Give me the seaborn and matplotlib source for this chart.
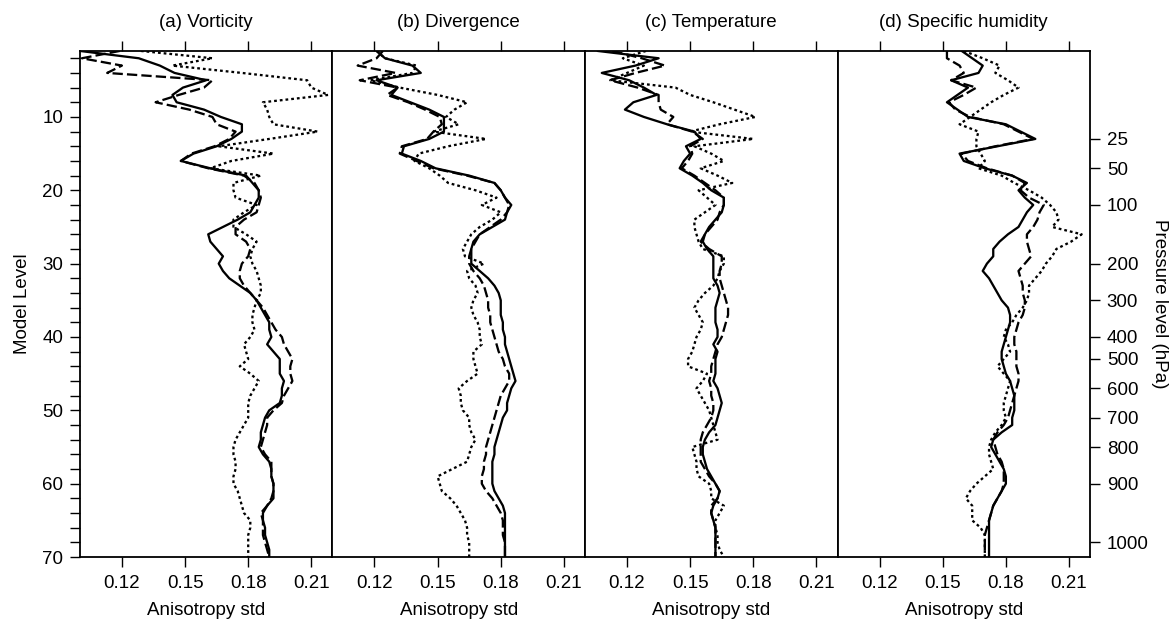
import numpy as np
import pandas as pd
import matplotlib
matplotlib.use("Agg")
import matplotlib.pyplot as plt
import seaborn as sns

levels = np.arange(1, 71)

# (a) Vorticity
vort_solid = [0.100, 0.128, 0.138, 0.145, 0.160, 0.149, 0.144, 0.146, 0.159, 0.167,
              0.177, 0.177, 0.172, 0.165, 0.154, 0.148, 0.162, 0.179, 0.182, 0.185,
              0.185, 0.183, 0.181, 0.175, 0.168, 0.161, 0.162, 0.165, 0.168, 0.166,
              0.168, 0.171, 0.176, 0.181, 0.184, 0.186, 0.188, 0.190, 0.190, 0.191,
              0.189, 0.192, 0.195, 0.195, 0.195, 0.197, 0.196, 0.196, 0.195, 0.190,
              0.188, 0.187, 0.186, 0.186, 0.185, 0.187, 0.190, 0.191, 0.191, 0.192,
              0.192, 0.192, 0.189, 0.187, 0.187, 0.188, 0.188, 0.189, 0.190, 0.190]
vort_dashed = [0.119, 0.101, 0.120, 0.113, 0.163, 0.159, 0.147, 0.136, 0.152, 0.163,
               0.165, 0.174, 0.171, 0.164, 0.153, 0.148, 0.161, 0.178, 0.183, 0.185,
               0.186, 0.185, 0.184, 0.178, 0.174, 0.174, 0.179, 0.181, 0.180, 0.177,
               0.176, 0.176, 0.178, 0.181, 0.184, 0.187, 0.189, 0.191, 0.193, 0.196,
               0.197, 0.199, 0.201, 0.200, 0.200, 0.201, 0.199, 0.197, 0.196, 0.192,
               0.189, 0.189, 0.188, 0.187, 0.186, 0.188, 0.191, 0.191, 0.191, 0.192,
               0.192, 0.191, 0.189, 0.186, 0.187, 0.187, 0.187, 0.188, 0.189, 0.190]
vort_dotted = [0.129, 0.163, 0.144, 0.177, 0.208, 0.210, 0.218, 0.187, 0.189, 0.190,
               0.192, 0.213, 0.190, 0.166, 0.192, 0.172, 0.162, 0.186, 0.173, 0.173,
               0.174, 0.184, 0.178, 0.173, 0.173, 0.179, 0.184, 0.182, 0.181, 0.182,
               0.184, 0.185, 0.186, 0.186, 0.184, 0.183, 0.182, 0.182, 0.183, 0.181,
               0.178, 0.179, 0.180, 0.176, 0.181, 0.185, 0.183, 0.181, 0.180, 0.180,
               0.180, 0.178, 0.176, 0.174, 0.173, 0.173, 0.174, 0.174, 0.173, 0.173,
               0.175, 0.176, 0.177, 0.178, 0.181, 0.181, 0.180, 0.180, 0.180, 0.180]

# (b) Divergence
div_solid = [0.121, 0.125, 0.138, 0.142, 0.121, 0.131, 0.128, 0.137, 0.146, 0.153,
             0.153, 0.153, 0.146, 0.134, 0.133, 0.142, 0.149, 0.165, 0.177, 0.180,
             0.182, 0.185, 0.183, 0.182, 0.176, 0.170, 0.167, 0.166, 0.166, 0.166,
             0.170, 0.174, 0.177, 0.179, 0.180, 0.180, 0.180, 0.181, 0.181, 0.182,
             0.182, 0.183, 0.184, 0.185, 0.186, 0.187, 0.185, 0.184, 0.183, 0.183,
             0.181, 0.180, 0.179, 0.178, 0.177, 0.177, 0.176, 0.176, 0.176, 0.176,
             0.177, 0.179, 0.181, 0.182, 0.182, 0.182, 0.182, 0.182, 0.182, 0.182]
div_dashed = [0.124, 0.121, 0.112, 0.130, 0.113, 0.131, 0.126, 0.136, 0.144, 0.151,
              0.152, 0.148, 0.145, 0.133, 0.132, 0.140, 0.148, 0.164, 0.177, 0.180,
              0.182, 0.184, 0.183, 0.180, 0.175, 0.170, 0.168, 0.166, 0.165, 0.165,
              0.167, 0.170, 0.172, 0.173, 0.174, 0.174, 0.175, 0.175, 0.176, 0.177,
              0.178, 0.179, 0.181, 0.182, 0.184, 0.184, 0.182, 0.180, 0.179, 0.178,
              0.177, 0.176, 0.175, 0.174, 0.173, 0.173, 0.172, 0.172, 0.171, 0.171,
              0.173, 0.176, 0.178, 0.180, 0.181, 0.181, 0.181, 0.182, 0.182, 0.182]
div_dotted = [0.121, 0.125, 0.140, 0.138, 0.118, 0.132, 0.150, 0.164, 0.158, 0.154,
              0.160, 0.148, 0.173, 0.155, 0.141, 0.139, 0.146, 0.151, 0.155, 0.168,
              0.178, 0.171, 0.180, 0.176, 0.170, 0.166, 0.164, 0.162, 0.163, 0.172,
              0.164, 0.165, 0.168, 0.169, 0.167, 0.166, 0.167, 0.169, 0.170, 0.170,
              0.171, 0.167, 0.167, 0.168, 0.169, 0.164, 0.160, 0.161, 0.161, 0.162,
              0.165, 0.165, 0.166, 0.168, 0.166, 0.165, 0.164, 0.157, 0.150, 0.151,
              0.152, 0.156, 0.159, 0.161, 0.163, 0.164, 0.164, 0.165, 0.165, 0.165]

# (c) Temperature
temp_solid = [0.106, 0.135, 0.124, 0.108, 0.121, 0.128, 0.134, 0.123, 0.119, 0.128,
              0.139, 0.152, 0.155, 0.148, 0.150, 0.147, 0.145, 0.151, 0.156, 0.160,
              0.166, 0.166, 0.165, 0.162, 0.159, 0.157, 0.156, 0.158, 0.161, 0.161,
              0.161, 0.161, 0.163, 0.164, 0.163, 0.162, 0.162, 0.162, 0.163, 0.163,
              0.161, 0.163, 0.162, 0.162, 0.162, 0.161, 0.163, 0.164, 0.165, 0.164,
              0.163, 0.162, 0.159, 0.157, 0.156, 0.156, 0.157, 0.158, 0.160, 0.162,
              0.164, 0.163, 0.161, 0.160, 0.161, 0.162, 0.162, 0.162, 0.162, 0.162]
temp_dashed = [0.113, 0.127, 0.138, 0.124, 0.112, 0.125, 0.135, 0.135, 0.136, 0.142,
               0.139, 0.151, 0.156, 0.150, 0.151, 0.149, 0.146, 0.152, 0.157, 0.162,
               0.166, 0.166, 0.164, 0.163, 0.160, 0.157, 0.155, 0.159, 0.165, 0.165,
               0.164, 0.164, 0.165, 0.166, 0.167, 0.168, 0.168, 0.167, 0.166, 0.165,
               0.163, 0.162, 0.161, 0.160, 0.160, 0.159, 0.160, 0.160, 0.161, 0.161,
               0.160, 0.158, 0.156, 0.155, 0.155, 0.155, 0.155, 0.157, 0.159, 0.162,
               0.164, 0.163, 0.160, 0.160, 0.161, 0.162, 0.162, 0.162, 0.162, 0.162]
temp_dotted = [0.129, 0.118, 0.128, 0.120, 0.112, 0.143, 0.150, 0.161, 0.171, 0.181,
               0.164, 0.150, 0.180, 0.152, 0.160, 0.166, 0.155, 0.163, 0.170, 0.154,
               0.158, 0.162, 0.157, 0.152, 0.152, 0.153, 0.154, 0.156, 0.166, 0.166,
               0.164, 0.163, 0.161, 0.157, 0.154, 0.152, 0.154, 0.156, 0.155, 0.153,
               0.152, 0.151, 0.149, 0.149, 0.158, 0.156, 0.153, 0.155, 0.157, 0.159,
               0.160, 0.161, 0.162, 0.163, 0.151, 0.152, 0.153, 0.153, 0.154, 0.159,
               0.160, 0.160, 0.166, 0.164, 0.162, 0.162, 0.163, 0.163, 0.164, 0.166]

# (d) Specific humidity
hum_solid = [0.159, 0.164, 0.169, 0.167, 0.154, 0.162, 0.157, 0.152, 0.157, 0.162,
             0.180, 0.187, 0.194, 0.176, 0.158, 0.160, 0.170, 0.183, 0.190, 0.186,
             0.189, 0.193, 0.190, 0.188, 0.186, 0.181, 0.177, 0.174, 0.174, 0.171,
             0.169, 0.172, 0.174, 0.176, 0.178, 0.181, 0.182, 0.182, 0.181, 0.180,
             0.179, 0.178, 0.178, 0.179, 0.180, 0.182, 0.183, 0.184, 0.184, 0.184,
             0.183, 0.183, 0.178, 0.174, 0.173, 0.175, 0.177, 0.179, 0.180, 0.180,
             0.178, 0.176, 0.174, 0.173, 0.172, 0.172, 0.172, 0.172, 0.172, 0.172]
hum_dashed = [0.152, 0.152, 0.158, 0.160, 0.154, 0.166, 0.160, 0.153, 0.156, 0.163,
              0.179, 0.186, 0.193, 0.175, 0.159, 0.162, 0.171, 0.183, 0.189, 0.187,
              0.191, 0.198, 0.196, 0.195, 0.193, 0.190, 0.190, 0.191, 0.192, 0.189,
              0.186, 0.187, 0.188, 0.188, 0.189, 0.189, 0.188, 0.186, 0.185, 0.184,
              0.184, 0.185, 0.185, 0.185, 0.186, 0.186, 0.185, 0.184, 0.183, 0.182,
              0.181, 0.179, 0.176, 0.174, 0.175, 0.176, 0.178, 0.179, 0.179, 0.179,
              0.178, 0.176, 0.174, 0.173, 0.172, 0.171, 0.170, 0.170, 0.170, 0.170]
hum_dotted = [0.160, 0.169, 0.177, 0.175, 0.181, 0.186, 0.179, 0.173, 0.168, 0.163,
              0.158, 0.167, 0.166, 0.166, 0.168, 0.170, 0.167, 0.178, 0.184, 0.191,
              0.197, 0.201, 0.204, 0.205, 0.202, 0.216, 0.211, 0.204, 0.202, 0.199,
              0.197, 0.194, 0.191, 0.191, 0.190, 0.188, 0.185, 0.183, 0.180, 0.179,
              0.181, 0.182, 0.179, 0.176, 0.179, 0.182, 0.181, 0.180, 0.179, 0.179,
              0.180, 0.178, 0.175, 0.173, 0.172, 0.172, 0.173, 0.174, 0.170, 0.166,
              0.163, 0.161, 0.164, 0.164, 0.164, 0.168, 0.170, 0.170, 0.170, 0.170]

titles = ["(a) Vorticity", "(b) Divergence", "(c) Temperature", "(d) Specific humidity"]
xticks = [0.12, 0.15, 0.18, 0.21]
pressure_levels = [13, 17, 22, 30, 35, 40, 43, 47, 51, 55, 60, 68]
pressure_labels = ["25", "50", "100", "200", "300", "400", "500", "600", "700", "800", "900", "1000"]

panels = [
    (vort_solid, vort_dashed, vort_dotted),
    (div_solid, div_dashed, div_dotted),
    (temp_solid, temp_dashed, temp_dotted),
    (hum_solid, hum_dashed, hum_dotted),
]

sns.set_style("ticks")
plt.rcParams["font.family"] = ["Liberation Sans", "DejaVu Sans"]
plt.rcParams.update({"text.color": "black", "axes.labelcolor": "black",
                     "xtick.color": "black", "ytick.color": "black"})
fs = 13.5

fig, axes = plt.subplots(1, 4, figsize=(11.74, 6.21), dpi=100)
fig.subplots_adjust(left=0.068, right=0.9285, bottom=0.103, top=0.918, wspace=0)

dash_map = {"solid": "", "dashed": (4.5, 1.8), "dotted": (1.2, 1.3)}

for i, (ax, (s, d, o)) in enumerate(zip(axes, panels)):
    df = pd.DataFrame({
        "level": np.concatenate([levels, levels, levels]),
        "value": np.concatenate([s, d, o]),
        "kind": ["solid"] * 70 + ["dashed"] * 70 + ["dotted"] * 70,
    })
    sns.lineplot(data=df, x="value", y="level", style="kind", dashes=dash_map,
                 color="black", linewidth=1.65, sort=False, estimator=None,
                 orient="y", legend=False, ax=ax)
    ax.set_xlim(0.10, 0.22)
    ax.set_ylim(70, 1)
    ax.set_xticks(xticks)
    ax.set_xticklabels([f"{t:.2f}" for t in xticks])
    ax.tick_params(axis="x", top=True, labeltop=False, direction="out",
                   length=7, width=1, labelsize=fs, pad=6)
    ax.set_xlabel("Anisotropy std", fontsize=fs, labelpad=7)
    ax.set_ylabel("")
    ax.set_title(titles[i], fontsize=fs, pad=17)
    for sp in ax.spines.values():
        sp.set_visible(True)
        sp.set_linewidth(1.3)
        sp.set_color("black")
    if i == 0:
        ax.set_yticks([10, 20, 30, 40, 50, 60, 70])
        ax.set_yticks([l for l in range(2, 70, 2) if l % 10], minor=True)
        ax.tick_params(axis="y", which="both", direction="out", length=7, width=1,
                       labelsize=fs, pad=5)
        ax.set_ylabel("Model Level", fontsize=fs, labelpad=8)
    elif i == 3:
        ax.yaxis.tick_right()
        ax.yaxis.set_label_position("right")
        ax.set_yticks(pressure_levels)
        ax.set_yticklabels(pressure_labels)
        ax.tick_params(axis="y", direction="out", length=7, width=1, labelsize=fs,
                       left=False, right=True, pad=5)
        ax.set_ylabel("Pressure level (hPa)", fontsize=fs, rotation=270, labelpad=14)
    else:
        ax.tick_params(axis="y", left=False, labelleft=False)

fig.savefig("out.png", dpi=100)
